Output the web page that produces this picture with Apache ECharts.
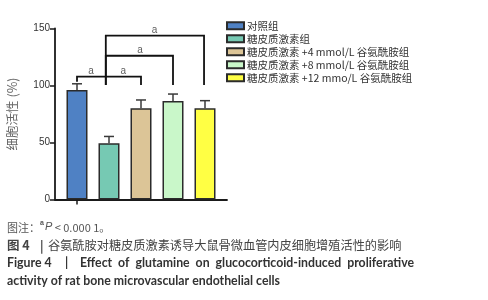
<!DOCTYPE html>
<html>
<head>
<meta charset="utf-8">
<script src="https://cdn.jsdelivr.net/npm/echarts@6/dist/echarts.min.js"></script>
<style>html,body{margin:0;padding:0;background:#fff;}#c{width:488px;height:300px;}</style>
</head>
<body>
<div id="c"></div>
<script>
// ---- data ----
const categories = ['对照组', '糖皮质激素组', '糖皮质激素 +4 mmol/L 谷氨酰胺组', '糖皮质激素 +8 mmol/L 谷氨酰胺组', '糖皮质激素 +12 mmo/L 谷氨酰胺组'];
const means = [96, 49.3, 80, 86.4, 80];
const errors = [5.5, 6, 7.3, 6.1, 6.7];
const barColors = ['#4f81c4', '#76c9b3', '#dcc597', '#c9f7c9', '#ffff44'];
const yTicks = [0, 50, 100, 150];
const yName = '细胞活性 (%)';
// significance brackets (x in category index units, y in value units)
const bracketX1 = [0, 0.9, 0.9];
const bracketX2 = [2, 3, 3.97];
const bracketTop = [107.7, 126.1, 143.7];
const bracketLeftEnd = [103.3, 100.4, 100.4];
const bracketRightEnd = [100.4, 100.4, 100.4];
const sigLabelX = [0.44, 1.45, 1.97, 2.42];
const sigLabelY = [112.7, 112.7, 131.1, 148.7];
const sigText = ['a', 'a', 'a', 'a'];
// caption
const noteLine = ['图注：', 'a', 'P', ' < 0.000 1。'];
const captionCN = ['图 4', '|', '谷氨酰胺对糖皮质激素诱导大鼠骨微血管内皮细胞增殖活性的影响'];
const captionEN1 = ['Figure 4', '|', 'Effect  of  glutamine  on  glucocorticoid-induced  proliferative'];
const captionEN2 = 'activity of rat bone microvascular endothelial cells';

const chart = echarts.init(document.getElementById('c'), null, {renderer: 'canvas'});
const AX = '#1a1a1a';
const TOP = 28.5, H = 171;

const barSeries = categories.map((name, i) => ({
  type: 'bar', name: name, xAxisIndex: 0, yAxisIndex: 0,
  barWidth: 21, barGap: '-100%',
  data: categories.map((c, j) => j === i ? means[i] : '-'),
  itemStyle: {color: barColors[i], borderColor: '#2b2b2b', borderWidth: 1.5},
  emphasis: {disabled: true}, z: 2
}));

const errSeries = {
  type: 'custom', xAxisIndex: 0, yAxisIndex: 0, z: 3, silent: true,
  data: means.map((m, i) => [i, m, m + errors[i]]),
  renderItem: function (params, api) {
    const p0 = api.coord([api.value(0), api.value(1)]);
    const p1 = api.coord([api.value(0), api.value(2)]);
    return {type: 'group', children: [
      {type: 'line', shape: {x1: p0[0], y1: p0[1], x2: p1[0], y2: p1[1]}, style: {stroke: '#3a3a3a', lineWidth: 1.5}},
      {type: 'line', shape: {x1: p1[0] - 5, y1: p1[1], x2: p1[0] + 5, y2: p1[1]}, style: {stroke: '#3a3a3a', lineWidth: 1.5}}
    ]};
  }
};

const bracketSeries = {
  type: 'custom', xAxisIndex: 1, yAxisIndex: 0, z: 4, silent: true, clip: false,
  data: bracketX1.map((x, i) => [x, bracketX2[i], bracketTop[i], bracketLeftEnd[i], bracketRightEnd[i]]),
  renderItem: function (params, api) {
    const a = api.coord([api.value(0), api.value(3)]);
    const b = api.coord([api.value(0), api.value(2)]);
    const c = api.coord([api.value(1), api.value(2)]);
    const d = api.coord([api.value(1), api.value(4)]);
    return {type: 'polyline', shape: {points: [a, b, c, d]}, style: {stroke: '#111', lineWidth: 1.8, fill: null}};
  }
};

const sigSeries = {
  type: 'scatter', xAxisIndex: 1, yAxisIndex: 0, symbolSize: 0, silent: true, z: 5, clip: false,
  data: sigLabelX.map((x, i) => ({value: [x, sigLabelY[i]], label: {formatter: sigText[i]}})),
  label: {show: true, position: 'inside', color: '#333', fontSize: 10, fontFamily: 'Liberation Sans'}
};

const option = {
  animation: false,
  backgroundColor: '#fff',
  grid: [
    {left: 61, top: TOP, width: 160, height: H},
    {left: 55, top: TOP, width: 172, height: H}
  ],
  legend: {
    orient: 'vertical', left: 221, top: 15,
    data: categories, icon: 'rect', itemWidth: 17, itemHeight: 7, itemGap: 1.5,
    selectedMode: false,
    textStyle: {fontSize: 10.5, color: '#333', fontFamily: 'Noto Sans CJK SC', lineHeight: 11.5, padding: [0, 0, 0, -2]}
  },
  xAxis: [
    {type: 'category', gridIndex: 0, data: categories, axisLine: {show: false},
     axisTick: {show: true, alignWithLabel: true, length: 5, lineStyle: {color: AX, width: 1.5}},
     axisLabel: {show: false}},
    {type: 'value', gridIndex: 0, min: -0.5, max: 4.5, show: false},
    {type: 'value', gridIndex: 1, min: 0, max: 1, axisLine: {show: true, lineStyle: {color: AX, width: 1.8}},
     axisTick: {show: false}, axisLabel: {show: false}, splitLine: {show: false}}
  ],
  yAxis: [
    {type: 'value', gridIndex: 0, min: yTicks[0], max: yTicks[yTicks.length - 1], show: false},
    {type: 'value', gridIndex: 1, min: yTicks[0], max: yTicks[yTicks.length - 1], interval: yTicks[1] - yTicks[0],
     axisLine: {show: true, lineStyle: {color: AX, width: 1.8}},
     axisTick: {show: true, length: 5, lineStyle: {color: AX, width: 1.5}},
     axisLabel: {fontSize: 10, color: '#333', fontFamily: 'Liberation Sans', margin: 5},
     splitLine: {show: false},
     name: yName, nameLocation: 'middle', nameGap: 36, nameRotate: 90,
     nameTextStyle: {fontSize: 12.5, color: '#666', fontFamily: 'Noto Sans CJK SC'}}
  ],
  series: barSeries.concat([errSeries, bracketSeries, sigSeries]),
  graphic: [
    {type: 'text', left: 7, top: 220, style: {
      text: '{n|' + noteLine[0] + '}{s|' + noteLine[1] + '}{p|' + noteLine[2] + '}{n|' + noteLine[3] + '}',
      rich: {
        n: {fontSize: 11, fill: '#555', fontFamily: 'Noto Sans CJK SC', verticalAlign: 'bottom'},
        s: {fontSize: 7, fill: '#555', fontFamily: 'Liberation Sans', fontWeight: 'bold', verticalAlign: 'top', padding: [0, 1, 6, 0]},
        p: {fontSize: 11, fill: '#555', fontFamily: 'Liberation Sans', fontStyle: 'italic'}
      }}},
    {type: 'text', left: 7, top: 239, style: {text: captionCN[0], fontSize: 12.5, fontWeight: 'bold', fill: '#444', fontFamily: 'Noto Sans CJK SC'}},
    {type: 'text', left: 40, top: 239, style: {text: captionCN[1], fontSize: 12, fontWeight: 'bold', fill: '#444', fontFamily: 'Noto Sans CJK SC'}},
    {type: 'text', left: 48, top: 239, style: {text: captionCN[2], fontSize: 12.2, fill: '#444', fontFamily: 'Noto Sans CJK SC'}},
    {type: 'text', left: 7, top: 257, style: {text: captionEN1[0], fontSize: 12.3, fontWeight: 'bold', fill: '#333', fontFamily: 'Lato'}},
    {type: 'text', left: 65, top: 257, style: {text: captionEN1[1], fontSize: 12.3, fontWeight: 'bold', fill: '#333', fontFamily: 'Lato'}},
    {type: 'text', left: 80, top: 257, style: {text: captionEN1[2], fontSize: 12.3, fontWeight: 'bold', fill: '#333', fontFamily: 'Lato'}},
    {type: 'text', left: 7, top: 275, style: {text: captionEN2, fontSize: 12.3, fontWeight: 'bold', fill: '#333', fontFamily: 'Lato'}}
  ]
};
chart.setOption(option);
</script>
</body>
</html>
